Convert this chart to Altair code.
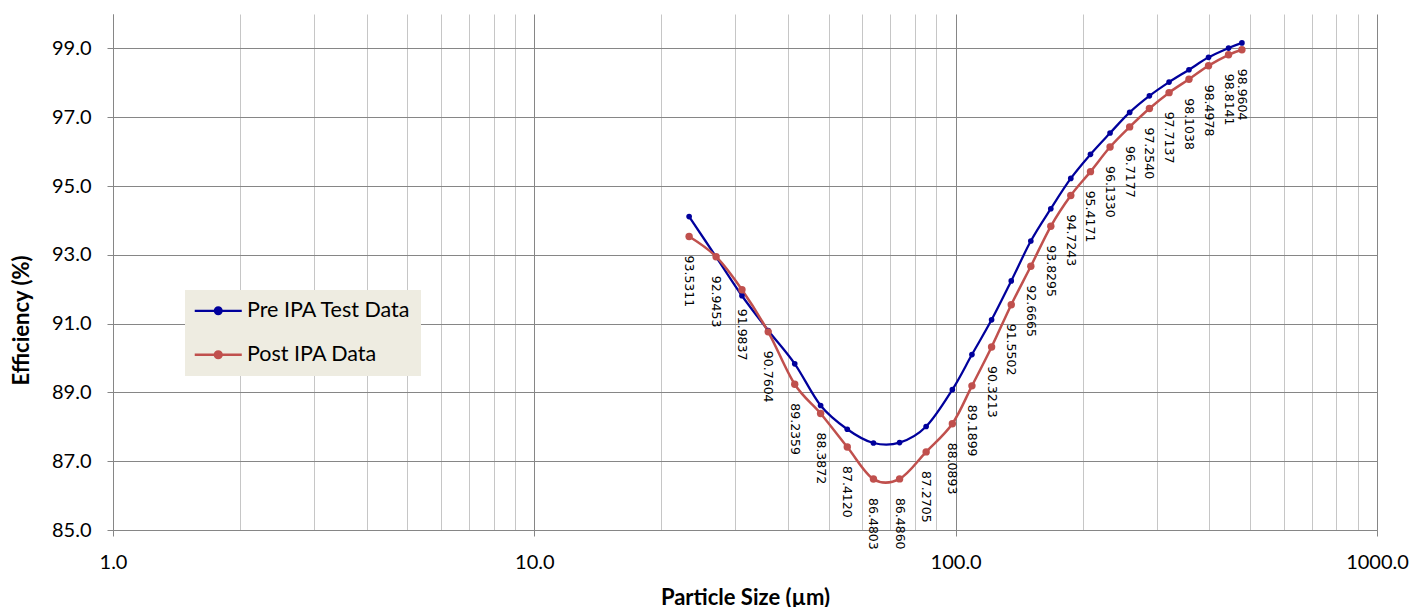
import altair as alt
import pandas as pd

# ---- data ----
sizes = [23.3, 27.0, 31.1, 35.9, 41.5, 47.8, 55.3, 63.8, 73.6, 85.1, 98.2,
         109.3, 121.7, 135.5, 150.8, 168.2, 187.6, 208.9, 232.5, 258.8,
         288.3, 321.0, 357.9, 398.3, 444.3, 478.0]
pre_ipa = [94.11, 92.94, 91.81, 90.80, 89.83, 88.62, 87.93, 87.53, 87.54,
           88.01, 89.08, 90.10, 91.11, 92.24, 93.40, 94.34, 95.22, 95.92,
           96.54, 97.14, 97.62, 98.02, 98.38, 98.74, 99.01, 99.16]
post_ipa = [93.5311, 92.9453, 91.9837, 90.7604, 89.2359, 88.3872, 87.4120,
            86.4803, 86.4860, 87.2705, 88.0893, 89.1899, 90.3213, 91.5502,
            92.6665, 93.8295, 94.7243, 95.4171, 96.1330, 96.7177, 97.2540,
            97.7137, 98.1038, 98.4978, 98.8141, 98.9604]
series_names = ["Pre IPA Test Data", "Post IPA Data"]
series_colors = ["#00009C", "#C0504D"]
y_ticks = [85, 87, 89, 91, 93, 95, 97, 99]
x_major = [1, 10, 100, 1000]
x_minor = [2, 3, 4, 5, 6, 7, 8, 9, 20, 30, 40, 50, 60, 70, 80, 90,
           200, 300, 400, 500, 600, 700, 800, 900]

rows = []
for s, v in zip(sizes, pre_ipa):
    rows.append({"size": s, "eff": v, "series": series_names[0]})
for s, v in zip(sizes, post_ipa):
    rows.append({"size": s, "eff": v, "series": series_names[1]})
df = pd.DataFrame(rows)
post_df = pd.DataFrame({"size": sizes, "eff": post_ipa})

FONT = "Lato"
GRID_DARK = "#868686"
GRID_LIGHT = "#C6C6C6"
major_test = "indexof([1,10,100,1000], datum.value) >= 0"

x_enc = alt.X(
    "size:Q",
    scale=alt.Scale(type="log", domain=[1, 1000], nice=False),
    title="Particle Size (µm)",
    axis=alt.Axis(
        values=sorted(x_major + x_minor),
        labelExpr=major_test + " ? format(datum.value, '.1f') : ''",
        labelOverlap=False,
        labelFlush=False,
        labelFont=FONT, labelFontSize=20, labelColor="black",
        labelBaseline="middle", labelPadding=26,
        tickSize=6,
        tickColor={"condition": {"test": major_test, "value": GRID_DARK}, "value": "transparent"},
        gridColor={"condition": {"test": major_test, "value": GRID_DARK}, "value": GRID_LIGHT},
        gridOpacity=1,
        domainColor=GRID_DARK,
        titleFont=FONT, titleFontSize=22, titleFontWeight="bold", titleColor="black",
        titleX=632, titleY=67, titleAlign="center", titleBaseline="middle",
    ),
)
y_enc = alt.Y(
    "eff:Q",
    scale=alt.Scale(domain=[85, 100], nice=False, zero=False),
    title="Efficiency (%)",
    axis=alt.Axis(
        values=y_ticks, format=".1f",
        labelFont=FONT, labelFontSize=20, labelColor="black", labelPadding=16,
        tickSize=6, tickColor=GRID_DARK,
        gridColor=GRID_DARK, gridOpacity=1, domainColor=GRID_DARK,
        titleFont=FONT, titleFontSize=22, titleFontWeight="bold", titleColor="black",
        titleX=-91.5, titleY=306, titleAlign="center", titleBaseline="middle",
    ),
)

# legend symbol: a line with a dot (concentric stroked rings read as a filled dot)
sym_path = ("M-2.94,0L2.94,0"
            "M-0.15,0A0.15,0.15,0,1,1,0.15,0A0.15,0.15,0,1,1,-0.15,0"
            "M-0.3,0A0.3,0.3,0,1,1,0.3,0A0.3,0.3,0,1,1,-0.3,0"
            "M-0.42,0A0.42,0.42,0,1,1,0.42,0A0.42,0.42,0,1,1,-0.42,0")
legend = alt.Legend(
    title=None, orient="none", legendX=72, legendY=276,
    symbolType=sym_path, symbolSize=256, symbolStrokeWidth=2, symbolOpacity=1,
    symbolOffset=12.5,
    labelFont=FONT, labelFontSize=21.5, labelColor="black", labelOffset=18,
    labelLimit=400,
    fillColor="#EEECE1", padding=10, rowPadding=21,
)
ser_scale = alt.Scale(domain=series_names, range=series_colors)

base = alt.Chart(df)
lines = base.mark_line(interpolate="cardinal").encode(
    x=x_enc, y=y_enc,
    stroke=alt.Stroke("series:N", scale=ser_scale, legend=legend, sort=series_names),
    strokeWidth=alt.StrokeWidth("series:N", scale=alt.Scale(domain=series_names, range=[2.25, 2.5]), legend=None),
    order=alt.Order("size:Q"),
)
points_pre = base.transform_filter(alt.datum.series == series_names[0]).mark_circle(
    opacity=1, size=32, color=series_colors[0]
).encode(x=x_enc, y=y_enc)
points_post = base.transform_filter(alt.datum.series == series_names[1]).mark_circle(
    opacity=1, size=55, color=series_colors[1]
).encode(x=x_enc, y=y_enc)
labels = alt.Chart(post_df).mark_text(
    angle=90, align="left", baseline="middle", dx=19,
    font="DejaVu Sans", fontSize=12.5, color="black",
).encode(x=x_enc, y=y_enc, text=alt.Text("eff:Q", format=".4f"))

chart = alt.layer(lines, points_pre, points_post, labels).properties(
    width=1264, height=516,
    autosize=alt.AutoSizeParams(type="none"),
    padding={"left": 105, "top": 6, "right": 40, "bottom": 85},
    background="white",
).configure_view(stroke=None)

chart.save("out.html", embed_options={"renderer": "svg", "actions": False})
